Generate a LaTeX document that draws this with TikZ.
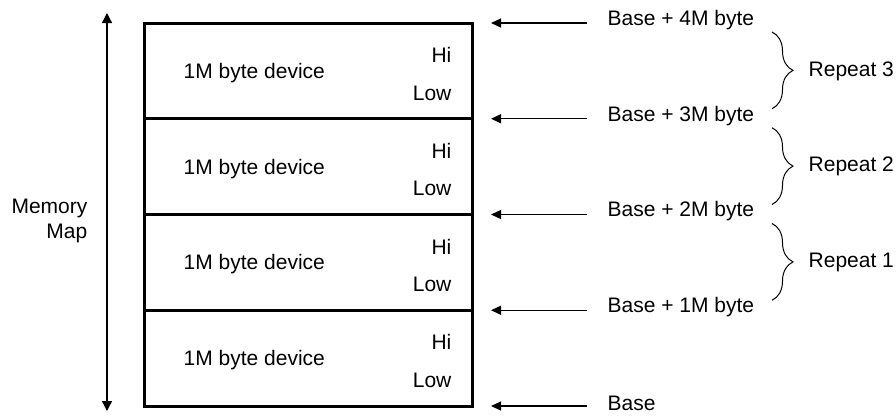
\documentclass[tikz,border=0pt]{standalone}
\usepackage{fontspec}
\setmainfont{Liberation Sans}
\usetikzlibrary{arrows.meta,positioning,decorations.pathreplacing}
\tikzset{memory layout/.style={%
    y=-1pt,
    x=1pt,
    every node/.style={%
        inner sep=0pt, font=\fontsize{21}{25}\selectfont
    },
    every path/.style={%
        black, line width=1.3pt
    }
}}
\tikzset{device box/.style={%
    draw, line width=3pt, minimum width=328pt, minimum height=95.75pt
}}
\tikzset{addr arrow/.style={%
    -{Triangle[width=9pt,length=10pt]}
}}
\tikzset{repeat brace/.style={%
    line width=1pt, decorate, decoration={brace, amplitude=21pt}
}}

\begin{document}
\begin{tikzpicture}[memory layout]
            \useasboundingbox (0,0) rectangle (896,415);

            \foreach \i in {0,...,3} {
                \pgfmathsetmacro{\ytop}{23+95.75*\i}
                \node[device box] (dev\i) at (308,\ytop+47.875) {};
                \node[anchor=west] (name\i) at (183,\ytop+50) {1M byte device};
                \node[anchor=east] (hi\i) at (452,\ytop+32) {Hi};
                \node[anchor=east] (low\i) at (452,\ytop+70) {Low};
            }

            \foreach \i/\txt in {0/Base + 4M byte, 1/Base + 3M byte, 2/Base + 2M byte, 3/Base + 1M byte, 4/Base} {
                \pgfmathsetmacro{\ylev}{23+95.75*\i}
                \coordinate (edge\i) at (491,\ylev);
                \node[anchor=west] (base\i) at (607,\ylev-3) {\txt};
                \draw[addr arrow] ([xshift=-20pt]base\i.west |- edge\i) -- (edge\i);
            }

            \foreach \r in {1,2,3} {
                \pgfmathsetmacro{\ytop}{23+95.75*(3-\r)}
                \pgfmathsetmacro{\ymid}{\ytop+47.875}
                \coordinate (brt\r) at (772,\ytop+9);
                \coordinate (brb\r) at (772,\ytop+85.75);
                \draw[repeat brace] (brt\r) -- (brb\r);
                \node[anchor=west] (repeat\r) at (808,\ymid) {Repeat \r};
            }

            \coordinate (maptop) at (107,13);
            \coordinate (mapbot) at (107,411);
            \draw[{Triangle[width=10pt,length=10pt]}-{Triangle[width=10pt,length=10pt]}] (maptop) -- (mapbot);
            \node[anchor=east, align=right] (map) at (88,220.5) {Memory\\Map};
        \end{tikzpicture}
\end{document}
